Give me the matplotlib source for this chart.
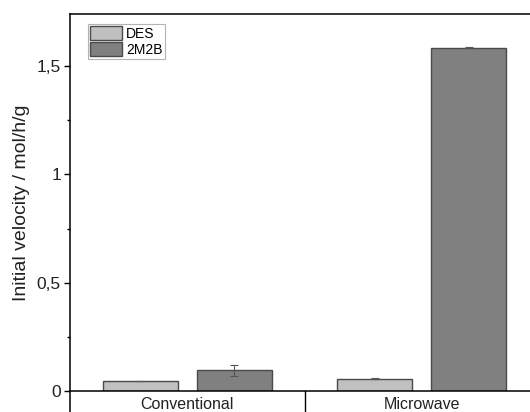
import matplotlib
matplotlib.use("Agg")
import matplotlib.pyplot as plt
from matplotlib.ticker import FixedLocator, FuncFormatter, MultipleLocator
from matplotlib.lines import Line2D
import numpy as np

plt.rcParams['font.family'] = ['Liberation Sans', 'DejaVu Sans']

categories = ["Conventional", "Microwave"]
series = ["DES", "2M2B"]
des_values = [0.046, 0.057]
des_errors = [0.002, 0.001]
m2b_values = [0.095, 1.585]
m2b_errors = [0.024, 0.003]
ytick_values = [0, 0.5, 1, 1.5]

fig = plt.figure(figsize=(5.30, 4.12), dpi=100)
W, H = 530, 412
ax = fig.add_axes([70 / W, 1 - 391 / H, 469 / W, 377 / H])

x = np.arange(len(categories))
width = 0.32
offset = 0.2
err_kw = dict(ecolor="#555555", elinewidth=0.8, capsize=3, capthick=0.8)
ax.bar(x - offset, des_values, width, yerr=des_errors, color="#c0c0c0",
       edgecolor="#4a4a4a", linewidth=1.0, label=series[0], error_kw=err_kw)
ax.bar(x + offset, m2b_values, width, yerr=m2b_errors, color="#808080",
       edgecolor="#4a4a4a", linewidth=1.0, label=series[1], error_kw=err_kw)

ax.set_xlim(-0.5, 1.5)
ax.set_ylim(0, 1.74)

ax.yaxis.set_major_locator(FixedLocator(ytick_values))
ax.yaxis.set_minor_locator(MultipleLocator(0.25))
ax.yaxis.set_major_formatter(FuncFormatter(lambda v, p: f"{v:g}".replace(".", ",")))
ax.tick_params(axis="y", which="major", length=4.5, width=1.0, labelsize=12.5,
               pad=2, labelcolor="#222222")
ax.tick_params(axis="y", which="minor", length=2.5, width=1.0)

ax.set_xticks(x)
ax.set_xticklabels(categories)
ax.tick_params(axis="x", length=0, labelsize=11.5, pad=4, labelcolor="#222222")

ax.spines["right"].set_visible(False)
for s in ("left", "top", "bottom"):
    ax.spines[s].set_linewidth(1.1)

ax.set_ylabel("Initial velocity / mol/h/g", fontsize=14, labelpad=5,
              color="#222222")

# left axis runs below the baseline, and a divider separates the two groups
ax.add_line(Line2D([0, 0], [0, -0.08], transform=ax.transAxes, color="black",
                   linewidth=1.1, clip_on=False))
ax.add_line(Line2D([0.5, 0.5], [0, -0.08], transform=ax.get_xaxis_transform(),
                   color="black", linewidth=1.0, clip_on=False))

leg = ax.legend(loc="upper left", bbox_to_anchor=(88 / W, 1 - 24 / H),
                bbox_transform=fig.transFigure, fontsize=10, frameon=True,
                fancybox=False, handlelength=2.3, handleheight=1.15,
                labelspacing=0.1, borderpad=0.15, handletextpad=0.3,
                borderaxespad=0)
leg.get_frame().set_edgecolor("#a0a0a0")
leg.get_frame().set_linewidth(0.8)

fig.savefig("out.png", dpi=100)
